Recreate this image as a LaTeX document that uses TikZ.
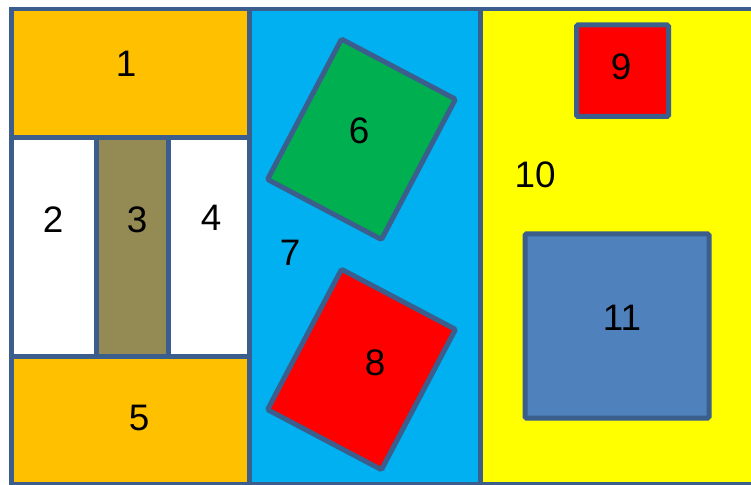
\documentclass[tikz,border=0pt]{standalone}
\usepackage{fontspec}
\setmainfont{Liberation Sans}
\definecolor{edge}{HTML}{3B5E8C}
\definecolor{orangeA}{HTML}{FFC000}
\definecolor{oliveA}{HTML}{948A54}
\definecolor{skyA}{HTML}{00B0F0}
\definecolor{greenA}{HTML}{00B050}
\definecolor{redA}{HTML}{FF0000}
\definecolor{yellowA}{HTML}{FFFF00}
\definecolor{blueA}{HTML}{4F81BD}
\begin{document}
\begin{tikzpicture}[x=1bp,y=-1bp,
  cell/.style={draw=edge,line width=4.5bp,inner sep=0pt,outer sep=0pt,rectangle},
  tile/.style={draw=edge,line width=5bp,inner sep=0pt,outer sep=0pt,rectangle,rounded corners=1.5bp},
  lbl/.style={inner sep=0pt,font=\fontsize{37}{40}\selectfont,text=black}]
\useasboundingbox (0,0) rectangle (751,485);
\begin{scope}
\clip (0,0) rectangle (751,485);
% columns
\node[cell,fill=orangeA,minimum width=238bp,minimum height=128.5bp] (b1) at (130.5,73.25) {};
\node[cell,fill=white,minimum width=85bp,minimum height=219bp] (b2) at (54,247) {};
\node[cell,fill=white,minimum width=81bp,minimum height=219bp] (b4) at (209,247) {};
\node[cell,fill=oliveA,minimum width=72bp,minimum height=219bp] (b3) at (132.5,247) {};
\node[cell,fill=orangeA,minimum width=238bp,minimum height=127.5bp] (b5) at (130.5,420.25) {};
\node[cell,fill=skyA,minimum width=231bp,minimum height=475bp] (b7) at (365,246.5) {};
\node[cell,fill=yellowA,minimum width=274.5bp,minimum height=475bp] (b10) at (617.75,246.5) {};
% inner tiles
\node[tile,fill=greenA,rotate=-27.8,minimum width=128.8bp,minimum height=158.6bp] (b6) at (361.5,139.3) {};
\node[tile,fill=redA,rotate=-27.8,minimum width=128.8bp,minimum height=158.6bp] (b8) at (361.5,369.5) {};
\node[tile,fill=redA,minimum width=92bp,minimum height=91.5bp] (b9) at (622.5,70.75) {};
\node[tile,fill=blueA,minimum width=184bp,minimum height=184bp] (b11) at (617,326) {};
\end{scope}
% labels
\node[lbl] (t1) at (126,64) {1};
\node[lbl] (t2) at (53,220) {2};
\node[lbl] (t3) at (137,220) {3};
\node[lbl] (t4) at (211,218) {4};
\node[lbl] (t5) at (139,418) {5};
\node[lbl] (t6) at (359,131) {6};
\node[lbl] (t7) at (290,253) {7};
\node[lbl] (t8) at (375,363) {8};
\node[lbl] (t9) at (621,67) {9};
\node[lbl] (t10) at (535,175) {10};
\node[lbl] (t11) at (622,318) {11};
\end{tikzpicture}
\end{document}
